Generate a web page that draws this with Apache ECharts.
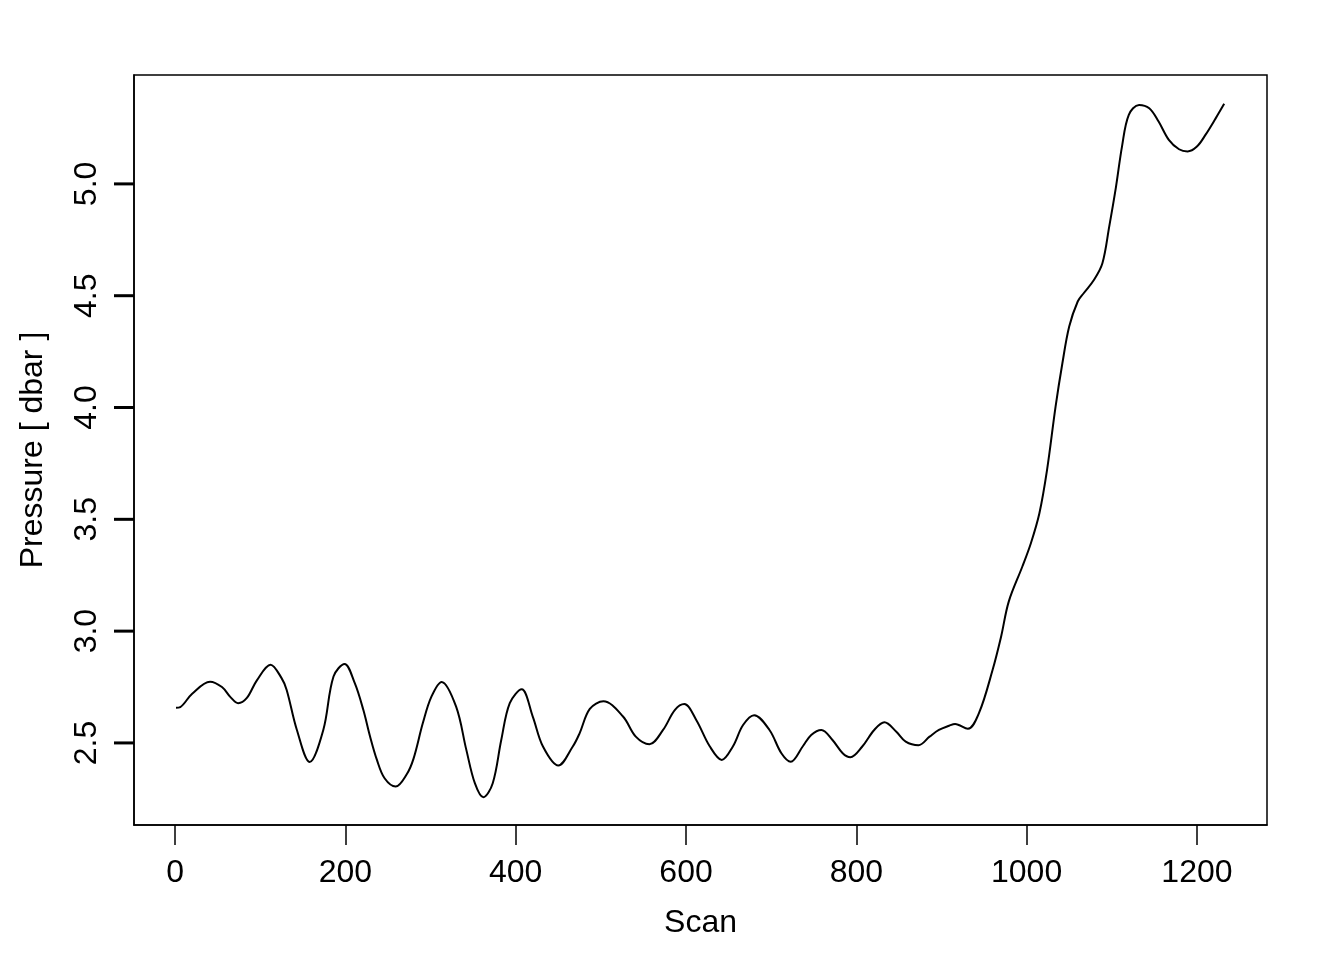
<!DOCTYPE html>
<html>
<head>
<meta charset="utf-8">
<script src="https://cdn.jsdelivr.net/npm/echarts@6/dist/echarts.min.js"></script>
<style>html,body{margin:0;padding:0;background:#fff}#c{width:1344px;height:960px}</style>
</head>
<body>
<div id="c"></div>
<script>
const scans = [1, 6, 20, 41, 55, 65, 74, 84, 96, 112, 125, 131, 143, 158, 174, 186, 199, 211, 221, 229, 237, 246, 259, 272, 280, 291, 301, 313, 330, 342, 352, 362, 373, 383, 393, 407, 420, 432, 450, 467, 475, 487, 503, 526, 541, 557, 573, 587, 598, 612, 628, 642, 655, 667, 680, 698, 712, 723, 737, 747, 759, 772, 784, 793, 807, 821, 833, 847, 858, 873, 886, 897, 909, 916, 931, 944, 960, 970, 979, 995, 1005, 1015, 1024, 1034, 1042, 1050, 1060, 1067, 1079, 1089, 1097, 1105, 1112, 1120, 1132, 1144, 1155, 1167, 1179, 1189, 1200, 1210, 1222, 1232];
const pressure = [2.657, 2.660, 2.72, 2.774, 2.75, 2.705, 2.678, 2.70, 2.78, 2.85, 2.79, 2.737, 2.558, 2.415, 2.558, 2.797, 2.853, 2.767, 2.648, 2.528, 2.424, 2.342, 2.305, 2.36, 2.43, 2.59, 2.707, 2.773, 2.662, 2.469, 2.32, 2.257, 2.32, 2.513, 2.678, 2.74, 2.618, 2.484, 2.399, 2.484, 2.543, 2.652, 2.686, 2.618, 2.528, 2.494, 2.558, 2.648, 2.674, 2.603, 2.484, 2.424, 2.484, 2.58, 2.624, 2.558, 2.454, 2.416, 2.484, 2.536, 2.558, 2.513, 2.454, 2.436, 2.484, 2.558, 2.592, 2.55, 2.506, 2.49, 2.528, 2.558, 2.577, 2.585, 2.563, 2.633, 2.826, 2.975, 3.132, 3.289, 3.393, 3.527, 3.721, 4.004, 4.198, 4.362, 4.474, 4.511, 4.57, 4.645, 4.809, 4.988, 5.167, 5.309, 5.353, 5.338, 5.279, 5.197, 5.155, 5.145, 5.167, 5.219, 5.293, 5.358];
const xTicks = [0, 200, 400, 600, 800, 1000, 1200];
const yTicks = [2.5, 3.0, 3.5, 4.0, 4.5, 5.0];
const xLabel = 'Scan';
const yLabel = 'Pressure [ dbar ]';

const X_MIN = -48.3, X_MAX = 1282.3, Y_MIN = 2.133, Y_MAX = 5.487;
const font = '"Liberation Sans", Arial, Helvetica, sans-serif';
const chart = echarts.init(document.getElementById('c'), null, {renderer: 'canvas'});
const data = scans.map((s, i) => [s, pressure[i]]);
chart.setOption({
  animation: false,
  backgroundColor: '#ffffff',
  grid: {left: 134, top: 75, right: 77, bottom: 135, show: true, borderColor: '#000', borderWidth: 1.5, backgroundColor: 'transparent', containLabel: false},
  xAxis: {
    type: 'value', min: X_MIN, max: X_MAX, position: 'bottom',
    name: xLabel, nameLocation: 'middle', nameGap: 82.5,
    nameTextStyle: {fontFamily: font, fontSize: 32, color: '#000'},
    axisLine: {show: true, onZero: false, lineStyle: {color: '#000', width: 1.5}},
    splitLine: {show: false},
    axisTick: {show: true, customValues: xTicks, length: 20, inside: false, lineStyle: {color: '#000', width: 1.5}},
    axisLabel: {customValues: xTicks, margin: 32, fontFamily: font, fontSize: 32, color: '#000', formatter: v => String(v)}
  },
  yAxis: {
    type: 'value', min: Y_MIN, max: Y_MAX, position: 'left',
    name: yLabel, nameLocation: 'middle', nameGap: 84.5, nameRotate: 90,
    nameTextStyle: {fontFamily: font, fontSize: 32, color: '#000'},
    axisLine: {show: true, onZero: false, lineStyle: {color: '#000', width: 1.5}},
    splitLine: {show: false},
    axisTick: {show: false},
    axisLabel: {customValues: yTicks, rotate: 90, margin: 30.5, fontFamily: font, fontSize: 32, color: '#000', formatter: v => v.toFixed(1)}
  },
  series: [{
    type: 'line', data: data, showSymbol: false, smooth: 0.35,
    lineStyle: {color: '#000', width: 2}, itemStyle: {color: '#000'}
  }]
});
// y-axis ticks on a top layer, positioned through the chart's own scales
const tickLen = 20;
const yTickGraphics = yTicks.map(v => {
  const q = chart.convertToPixel({gridIndex: 0}, [X_MIN, v]);
  return {type: 'line', silent: true, z: 100, zlevel: 1,
    shape: {x1: q[0] - tickLen, y1: q[1], x2: q[0], y2: q[1]},
    style: {stroke: '#000', lineWidth: 3}};
});
chart.setOption({graphic: yTickGraphics});
</script>
</body>
</html>
